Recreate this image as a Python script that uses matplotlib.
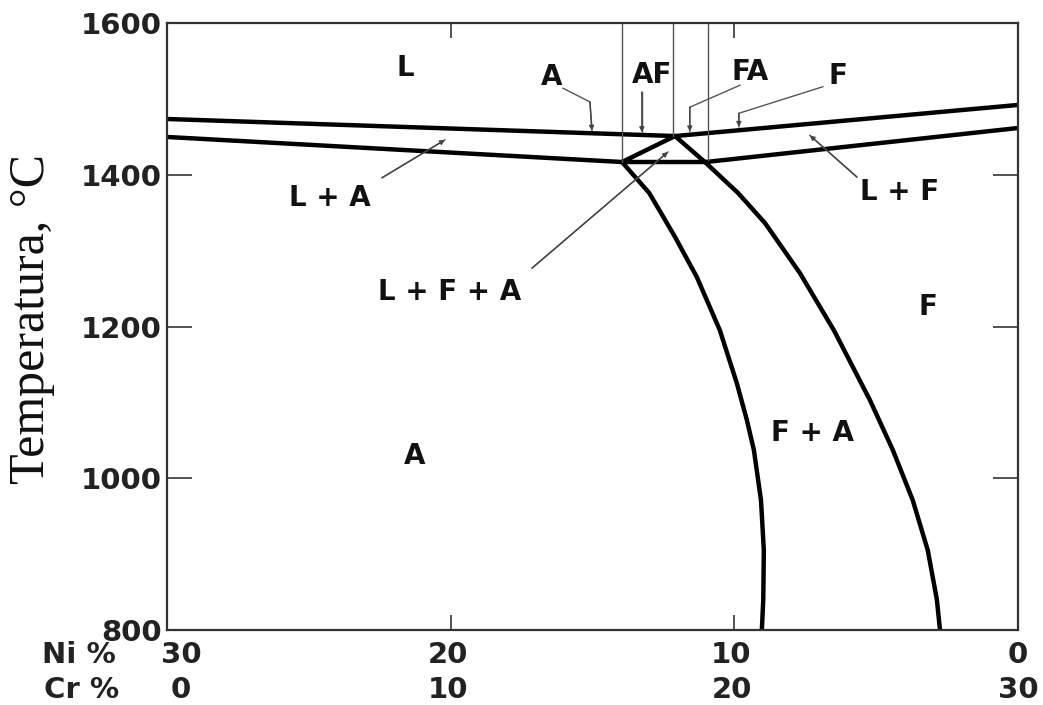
import matplotlib
matplotlib.use('Agg')
import matplotlib.pyplot as plt

# ---- axis data ----
cr_ticks = [0, 10, 20, 30]
ni_labels = ['30', '20', '10', '0']
cr_labels = ['0', '10', '20', '30']
t_ticks = [800, 1000, 1200, 1400, 1600]

# ---- phase boundaries (x = Cr %, y = Temperature °C) ----
liq_cr = [0, 17.91, 30]
liq_t = [1473.5, 1451, 1492]

sol_a_cr = [0, 16.04]
sol_a_t = [1449.8, 1416.8]

tri_cr = [17.91, 16.04, 19.0]
tri_t = [1451, 1416.8, 1416.8]

sol_f_cr = [19.0, 30]
sol_f_t = [1416.8, 1461.6]

a_solvus_cr = [16.04, 17.0, 17.91, 18.68, 19.49, 20.09, 20.44, 20.69, 20.94, 21.04, 21.02, 20.97]
a_solvus_t = [1416.8, 1376, 1318, 1265, 1195, 1125, 1077, 1037, 971, 905, 840, 800]

f_solvus_cr = [17.91, 19.0, 20.13, 21.08, 22.31, 23.51, 24.78, 25.59, 26.29, 26.82, 27.14, 27.25]
f_solvus_t = [1451, 1415.5, 1376, 1336.4, 1270.5, 1195, 1103, 1037, 971, 905, 840, 800]

# thin vertical boundaries of solidification modes
mode_cr = [16.04, 17.85, 19.07]
mode_t_end = [1416.8, 1451, 1420]

fig = plt.figure(figsize=(10.43, 7.05), dpi=100)
ax = fig.add_axes([167/1043, 1-630/705, (1018-167)/1043, (630-23)/705])
ax.set_xlim(0, 30)
ax.set_ylim(800, 1600)

lw_main = 3.2
for xs, ys in [(liq_cr, liq_t), (sol_a_cr, sol_a_t), (tri_cr, tri_t),
               (sol_f_cr, sol_f_t), (a_solvus_cr, a_solvus_t), (f_solvus_cr, f_solvus_t)]:
    ax.plot(xs, ys, color='black', lw=lw_main, solid_joinstyle='round',
            solid_capstyle='round')

for c, te in zip(mode_cr, mode_t_end):
    ax.plot([c, c], [1600, te], color='#555555', lw=1.0)

# leader lines
lead_kw = dict(color='#555555', lw=1.0)
def leader(xs, ys):
    ax.plot(xs, ys, **lead_kw)
    ax.annotate('', xy=(xs[-1], ys[-1]), xytext=(xs[-2], ys[-2]),
                arrowprops=dict(arrowstyle='-|>', color='#444444', lw=1.0,
                                mutation_scale=7, shrinkA=0, shrinkB=0))

leader([13.96, 14.91, 14.98], [1514, 1496, 1458])
leader([16.74, 16.74], [1509, 1456])
leader([20.2, 18.43, 18.43], [1518, 1489, 1457])
leader([23.12, 20.16, 20.16], [1516, 1481, 1463])
leader([7.58, 9.8], [1396, 1446])
leader([24.32, 22.66], [1397, 1452])
leader([12.87, 17.66], [1277, 1430])

# region labels
lab_kw = dict(fontsize=20, fontweight='bold', ha='center', va='center',
              family='DejaVu Sans', color='#111111')
labels = [
    ('L', 8.39, 1541), ('A', 13.57, 1529), ('AF', 17.1, 1531), ('FA', 20.55, 1535),
    ('F', 23.65, 1530), ('L + A', 5.75, 1369), ('L + F', 25.84, 1377),
    ('L + F + A', 9.95, 1245), ('F', 26.82, 1226), ('F + A', 22.75, 1060),
    ('A', 8.74, 1029),
]
for s, x, y in labels:
    ax.text(x, y, s, **lab_kw)

# axes styling
for sp in ax.spines.values():
    sp.set_linewidth(1.6)
    sp.set_color('#333333')

ax.set_yticks(t_ticks)
ax.set_yticklabels([str(t) for t in t_ticks], fontsize=21, fontweight='bold',
                   family='DejaVu Sans', color='#222222')
ax.tick_params(axis='y', direction='in', length=18, width=1.3, color='#444444',
               right=True, pad=4)
ax.set_xticks(cr_ticks)
ax.set_xticklabels([])
ax.tick_params(axis='x', direction='in', length=11, width=1.3, color='#444444',
               top=True)

tr = ax.get_xaxis_transform()
tk_kw = dict(fontsize=21, fontweight='bold', family='DejaVu Sans', color='#222222',
             ha='center', va='center')
for c, nl, cl in zip(cr_ticks, ni_labels, cr_labels):
    xc = c + 0.5 if c == 0 else (c - 0.1 if c < 30 else c)
    ax.text(xc, -0.041, nl, transform=tr, **tk_kw)
    ax.text(xc, -0.099, cl, transform=tr, **tk_kw)
ax.text(-0.103, -0.041, 'Ni %', transform=ax.transAxes, **tk_kw)
ax.text(-0.100, -0.099, 'Cr %', transform=ax.transAxes, **tk_kw)

fig.text(32/1043, 1-319/705, 'Temperatura, °C', rotation=90, ha='center', va='center',
         fontsize=36, family='Liberation Serif', color='#111111')

fig.savefig('out.png', dpi=100)
